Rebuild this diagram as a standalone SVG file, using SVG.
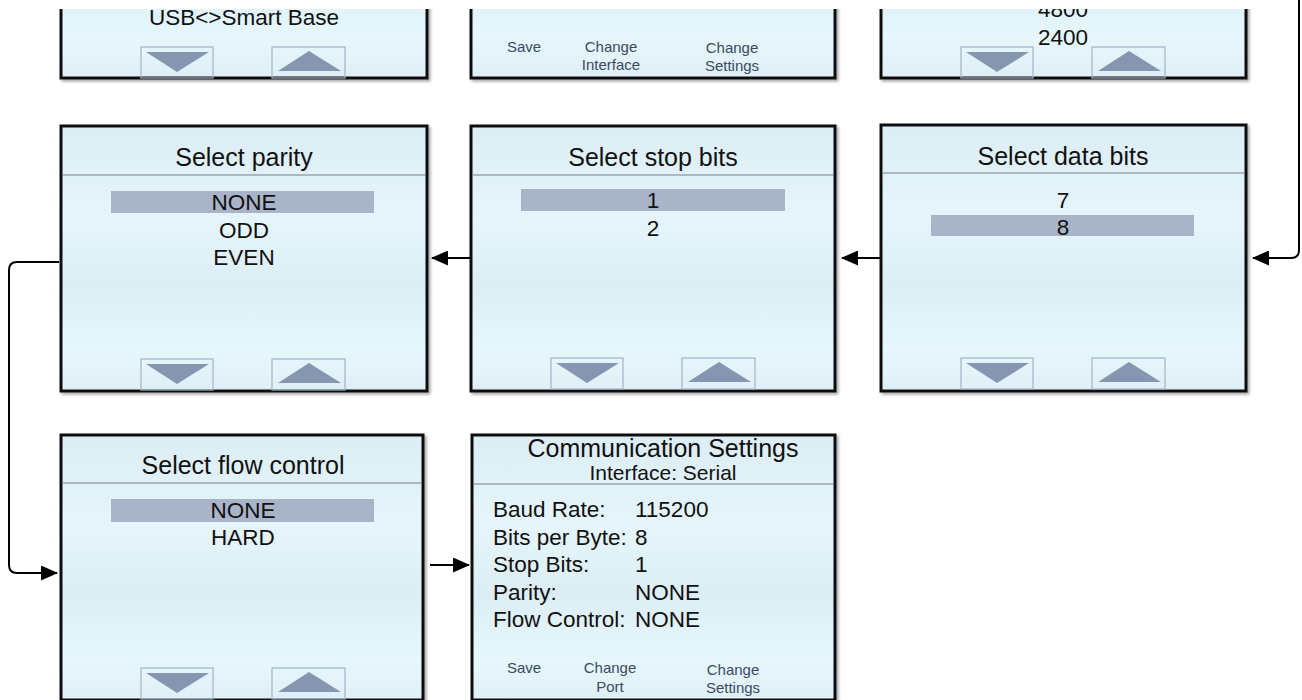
<svg xmlns="http://www.w3.org/2000/svg" width="1302" height="700" viewBox="0 0 1302 700">
<defs>
<linearGradient id="bg" x1="0" y1="0" x2="0" y2="1">
<stop offset="0" stop-color="#dcedf5"/>
<stop offset="0.35" stop-color="#e5f5fb"/>
<stop offset="0.6" stop-color="#dcedf5"/>
<stop offset="0.85" stop-color="#e6f7fc"/>
<stop offset="1" stop-color="#dfeff6"/>
</linearGradient>
<filter id="sh" x="-5%" y="-5%" width="110%" height="110%">
<feDropShadow dx="2" dy="2" stdDeviation="1.5" flood-color="#000" flood-opacity="0.35"/>
</filter>
<clipPath id="topclip"><rect x="0" y="9" width="1302" height="691"/></clipPath>
<marker id="ah" markerUnits="userSpaceOnUse" markerWidth="17" markerHeight="15" refX="16" refY="7.5" orient="auto">
<path d="M0,0 L17,7.5 L0,15 Z" fill="#000"/>
</marker>
<g id="btns">
<rect x="80" y="0" width="72" height="31" fill="none" stroke="#a3b3c6" stroke-width="1.2"/>
<polygon points="85,5 148,5 116,25" fill="#8796b0"/>
<rect x="211" y="0" width="73" height="31" fill="none" stroke="#a3b3c6" stroke-width="1.2"/>
<polygon points="217,24 280,24 248,4" fill="#8796b0"/>
</g>
</defs>
<style>
.panel{fill:url(#bg);stroke:#111;stroke-width:3;filter:url(#sh)}
.hdr{stroke:#9aa5ad;stroke-width:1.5}
.t{font-family:"Liberation Sans",Arial,sans-serif;fill:#111;text-anchor:middle}
.title{font-size:25px}
.item{font-size:22.5px}
.lbl{font-family:"Liberation Sans",Arial,sans-serif;font-size:22.5px;fill:#111}
.sm{font-family:"Liberation Sans",Arial,sans-serif;font-size:15px;fill:#3b4a62;text-anchor:middle}
.hl{fill:#aab4c8}
.conn{fill:none;stroke:#000;stroke-width:2}
</style>
<rect width="1302" height="700" fill="#fff"/>

<g clip-path="url(#topclip)">
<g id="top-interface">
<rect class="panel" x="61" y="-190" width="366" height="268"/>
<text class="t item" x="244" y="25">USB&lt;&gt;Smart Base</text>
<use href="#btns" x="61" y="47"/>
</g>
<g id="top-comm">
<rect class="panel" x="471" y="-190" width="364" height="268"/>
<text class="sm" x="524" y="52">Save</text>
<text class="sm" x="611" y="52">Change</text>
<text class="sm" x="611" y="70">Interface</text>
<text class="sm" x="732" y="53">Change</text>
<text class="sm" x="732" y="71">Settings</text>
</g>
<g id="top-baud">
<rect class="panel" x="881" y="-190" width="365" height="268"/>
<text class="t item" x="1063" y="17">4800</text>
<text class="t item" x="1063" y="45">2400</text>
<use href="#btns" x="881" y="47"/>
</g>
</g>

<g id="parity">
<rect class="panel" x="61" y="126" width="366" height="265"/>
<line class="hdr" x1="63" y1="175" x2="425" y2="175"/>
<text class="t title" x="244" y="166">Select parity</text>
<rect class="hl" x="111" y="191" width="263" height="22"/>
<text class="t item" x="244" y="210">NONE</text>
<text class="t item" x="244" y="238">ODD</text>
<text class="t item" x="244" y="265">EVEN</text>
<use href="#btns" x="61" y="359"/>
</g>

<g id="stopbits">
<rect class="panel" x="471" y="126" width="364" height="265"/>
<line class="hdr" x1="473" y1="175" x2="833" y2="175"/>
<text class="t title" x="653" y="166">Select stop bits</text>
<rect class="hl" x="521" y="189" width="264" height="22"/>
<text class="t item" x="653" y="208">1</text>
<text class="t item" x="653" y="236">2</text>
<use href="#btns" x="471" y="358"/>
</g>

<g id="databits">
<rect class="panel" x="881" y="125" width="365" height="266"/>
<line class="hdr" x1="883" y1="173" x2="1244" y2="173"/>
<text class="t title" x="1063" y="165">Select data bits</text>
<rect class="hl" x="931" y="215" width="263" height="21"/>
<text class="t item" x="1063" y="208">7</text>
<text class="t item" x="1063" y="235">8</text>
<use href="#btns" x="881" y="358"/>
</g>

<g id="flow">
<rect class="panel" x="61" y="435" width="362" height="265"/>
<line class="hdr" x1="63" y1="483" x2="421" y2="483"/>
<text class="t title" x="243" y="474">Select flow control</text>
<rect class="hl" x="111" y="499" width="263" height="23"/>
<text class="t item" x="243" y="518">NONE</text>
<text class="t item" x="243" y="545">HARD</text>
<use href="#btns" x="61" y="668"/>
</g>

<g id="summary">
<rect class="panel" x="472" y="435" width="363" height="265"/>
<line class="hdr" x1="474" y1="484" x2="833" y2="484"/>
<text class="t title" x="663" y="457">Communication Settings</text>
<text class="t" x="663" y="480" font-size="21">Interface: Serial</text>
<text class="lbl" x="493" y="517">Baud Rate:</text>
<text class="lbl" x="635" y="517">115200</text>
<text class="lbl" x="493" y="545">Bits per Byte:</text>
<text class="lbl" x="635" y="545">8</text>
<text class="lbl" x="493" y="572">Stop Bits:</text>
<text class="lbl" x="635" y="572">1</text>
<text class="lbl" x="493" y="600">Parity:</text>
<text class="lbl" x="635" y="600">NONE</text>
<text class="lbl" x="493" y="627">Flow Control:</text>
<text class="lbl" x="635" y="627">NONE</text>
<text class="sm" x="524" y="673">Save</text>
<text class="sm" x="610" y="673">Change</text>
<text class="sm" x="610" y="692">Port</text>
<text class="sm" x="733" y="675">Change</text>
<text class="sm" x="733" y="693">Settings</text>
</g>

<g id="connectors">
<path class="conn" d="M1299,0 V250 Q1299,258 1291,258 H1253" marker-end="url(#ah)"/>
<path class="conn" d="M880,258 H842" marker-end="url(#ah)"/>
<path class="conn" d="M470,258 H432" marker-end="url(#ah)"/>
<path class="conn" d="M59,262 H17 Q9,262 9,270 V565 Q9,573 17,573 H57" marker-end="url(#ah)"/>
<path class="conn" d="M430,565 H469" marker-end="url(#ah)"/>
</g>
</svg>
